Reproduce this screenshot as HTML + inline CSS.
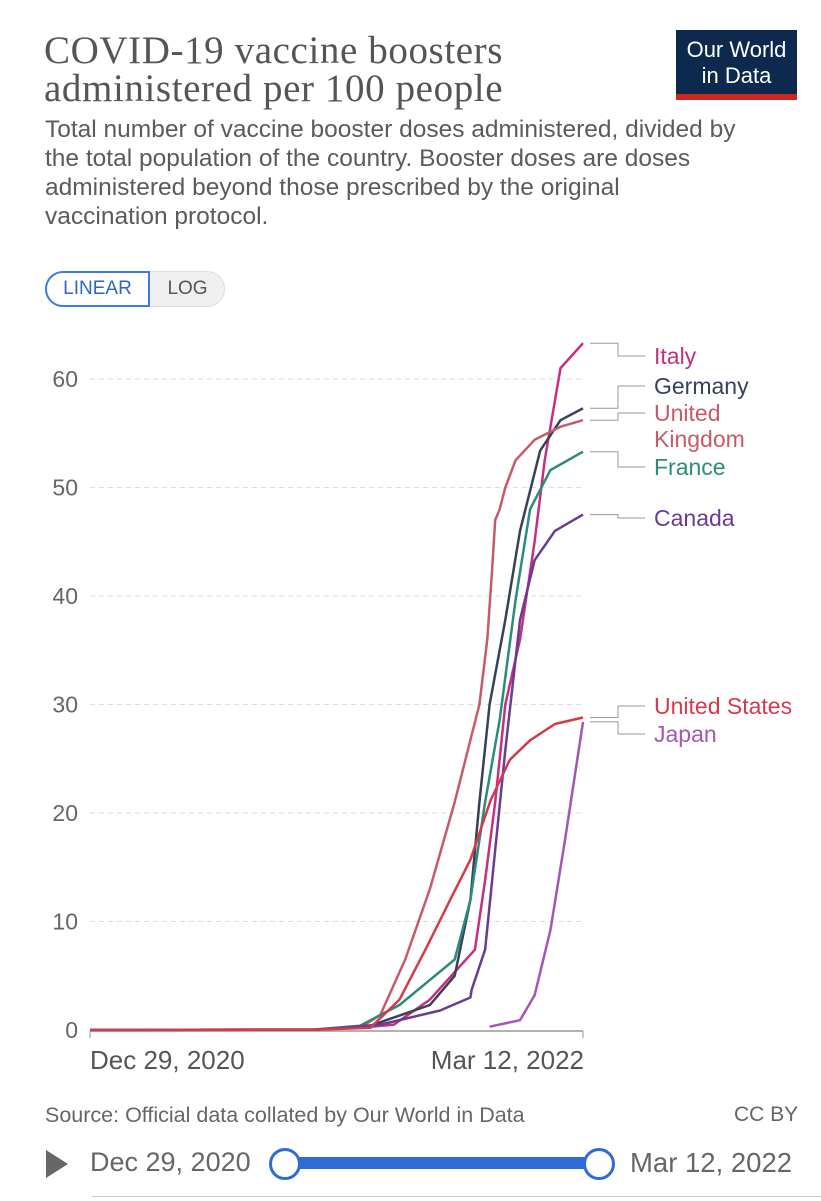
<!DOCTYPE html>
<html><head><meta charset="utf-8"><style>
body{margin:0;background:#fff;width:821px;height:1200px;overflow:hidden;font-family:"Liberation Sans",sans-serif;position:relative}
.abs{position:absolute}
</style></head><body>
<div class="abs" style="left:44px;top:32px;font-family:'Liberation Serif',serif;font-size:39px;line-height:38px;color:#555;letter-spacing:0.6px;white-space:nowrap">COVID-19 vaccine boosters<br>administered per 100 people</div>
<div class="abs" style="left:676px;top:30px;width:121px;height:70px;background:#0d2a4e;color:#fff;text-align:center;font-size:22px;line-height:26px;padding-top:7px;box-sizing:border-box;border-bottom:6px solid #ce261e">Our World<br>in Data</div>
<div class="abs" style="left:45px;top:115px;font-size:24.5px;line-height:29px;color:#5b5b5b;white-space:nowrap">Total number of vaccine booster doses administered, divided by<br>the total population of the country. Booster doses are doses<br>administered beyond those prescribed by the original<br>vaccination protocol.</div>
<div class="abs" style="left:45px;top:271px;width:180px;height:36px;border-radius:18px;background:#f0f0f0;border:1px solid #ddd;box-sizing:border-box"></div>
<div class="abs" style="left:45px;top:271px;width:105px;height:36px;border-radius:18px 0 0 18px;border:2px solid #3c7be0;background:#fff;box-sizing:border-box;color:#2d66c2;font-size:19px;line-height:32px;text-align:center">LINEAR</div>
<div class="abs" style="left:150px;top:271px;width:75px;height:36px;color:#555;font-size:19px;line-height:36px;text-align:center">LOG</div>
<svg id="chart" class="abs" style="left:0;top:320px" width="821" height="770"></svg>
<div class="abs" style="left:45px;top:1103px;font-size:21.5px;color:#666;white-space:nowrap">Source: Official data collated by Our World in Data</div>
<div class="abs" style="left:734px;top:1103px;font-size:21px;color:#666">CC BY</div>
<div class="abs" style="left:46px;top:1150px;width:0;height:0;border-top:14px solid transparent;border-bottom:14px solid transparent;border-left:22px solid #666"></div>
<div class="abs" style="left:90px;top:1147px;font-size:27px;color:#666;white-space:nowrap">Dec 29, 2020</div>
<div class="abs" style="left:283px;top:1157px;width:316px;height:12px;background:#2f6bd6;border-radius:3px"></div>
<div class="abs" style="left:269px;top:1148px;width:26px;height:26px;border-radius:50%;border:3px solid #2f6bd6;background:#fff"></div>
<div class="abs" style="left:583px;top:1148px;width:26px;height:26px;border-radius:50%;border:3px solid #2f6bd6;background:#fff"></div>
<div class="abs" style="left:630px;top:1147px;font-size:27.5px;color:#666;white-space:nowrap">Mar 12, 2022</div>
<div class="abs" style="left:92px;top:1196px;width:729px;height:4px;border-top:1px solid #ccc"></div>
<script>
const yTicks=[0,10,20,30,40,50,60];
const xTickLabels=["Dec 29, 2020","Mar 12, 2022"];
const xTickDays=[0,438];
const countries=["Italy","Germany","United Kingdom","France","Canada","United States","Japan"];
const colors=["#c4307f","#38405a","#c65a6a","#2a8c7b","#6a3b96","#d63a4a","#a456b4"];
const italyDays=[0,200,240,270,302,342,351,360,369,382,395,404,418,438];
const italyVals=[0,0.05,0.2,0.5,2.8,7.4,13.8,21,30,36,45,52.5,61,63.3];
const germanyDays=[0,200,249,302,324,338,346,355,369,382,400,418,438];
const germanyVals=[0,0.05,0.4,2.3,5,12,21,30,37.8,46,53.4,56.2,57.3];
const ukDays=[0,200,240,258,280,302,324,346,353,357,360,364,369,378,395,418,438];
const ukVals=[0,0.05,0.2,1.4,6.5,13,21,30,36,42,47,48,50,52.5,54.4,55.6,56.2];
const franceDays=[0,200,240,275,324,338,351,364,378,391,409,438];
const franceVals=[0,0.05,0.4,2.3,6.5,12,21,28.6,39.6,48,51.6,53.3];
const canadaDays=[0,200,258,311,338,339,351,360,369,382,395,413,438];
const canadaVals=[0,0.03,0.5,1.8,3,3.7,7.4,16.6,25.8,37.8,43.3,46,47.5];
const usDays=[0,200,249,275,298,320,338,356,373,391,413,438];
const usVals=[0,0.03,0.2,2.8,7.4,12,15.7,21.2,24.9,26.7,28.2,28.8];
const japanDays=[355,382,395,409,422,438];
const japanVals=[0.3,0.9,3.2,9.2,17.5,28.4];
const seriesDays=[italyDays,germanyDays,ukDays,franceDays,canadaDays,usDays,japanDays];
const seriesVals=[italyVals,germanyVals,ukVals,franceVals,canadaVals,usVals,japanVals];
const labelLines=[["Italy"],["Germany"],["United","Kingdom"],["France"],["Canada"],["United States"],["Japan"]];
const labelY=[356,386,413,467,518,706,734];

const NS="http://www.w3.org/2000/svg",svg=document.getElementById("chart"),OY=320;
const x=d=>90+d*(493/438);
const y=v=>1030-OY-v*10.85;
function mk(t,a){const e=document.createElementNS(NS,t);for(const k in a)e.setAttribute(k,a[k]);svg.appendChild(e);return e;}
yTicks.forEach(t=>{
  if(t>0){const l=mk("line",{x1:90,x2:583,y1:y(t),y2:y(t),stroke:"#ddd","stroke-dasharray":"5,4"});
  
  }
  const tx=mk("text",{x:78,y:y(t)+8,"text-anchor":"end","font-size":23,fill:"#666","font-family":"Liberation Sans"});
  tx.textContent=t;
  
  
});
const ax=mk("line",{x1:90,x2:583,y1:y(0)+1,y2:y(0)+1,stroke:"#999","stroke-width":1.5});


xTickDays.forEach((d,i)=>{
  const tk=mk("line",{x1:x(d),x2:x(d),y1:y(0)+1,y2:y(0)+8,stroke:"#999"});
  
  
  const tx=mk("text",{x:i==0?x(d):x(d)+1,y:y(0)+39,"text-anchor":i==0?"start":"end","font-size":26,fill:"#555","font-family":"Liberation Sans"});
  tx.textContent=xTickLabels[i];
  
  
});
countries.forEach((c,i)=>{
  const d=seriesDays[i].map((dd,j)=>(j?"L":"M")+x(dd).toFixed(1)+","+y(seriesVals[i][j]).toFixed(1)).join("");
  const p=mk("path",{d:d,fill:"none",stroke:colors[i],"stroke-width":2.5,"stroke-linejoin":"round"});
  
  
  const endV=seriesVals[i][seriesVals[i].length-1];
  const ly=labelY[i]-OY;
  const con=mk("polyline",{points:`590,${y(endV)} 618,${y(endV)} 618,${ly} 645,${ly}`,fill:"none",stroke:"#999","stroke-width":1});
  
  
  labelLines[i].forEach((t,k)=>{
    const tx=mk("text",{x:654,y:ly+8+k*26,"font-size":23,fill:colors[i],"font-family":"Liberation Sans"});
    tx.textContent=t;
    
    
  });
});
</script>
</body></html>
